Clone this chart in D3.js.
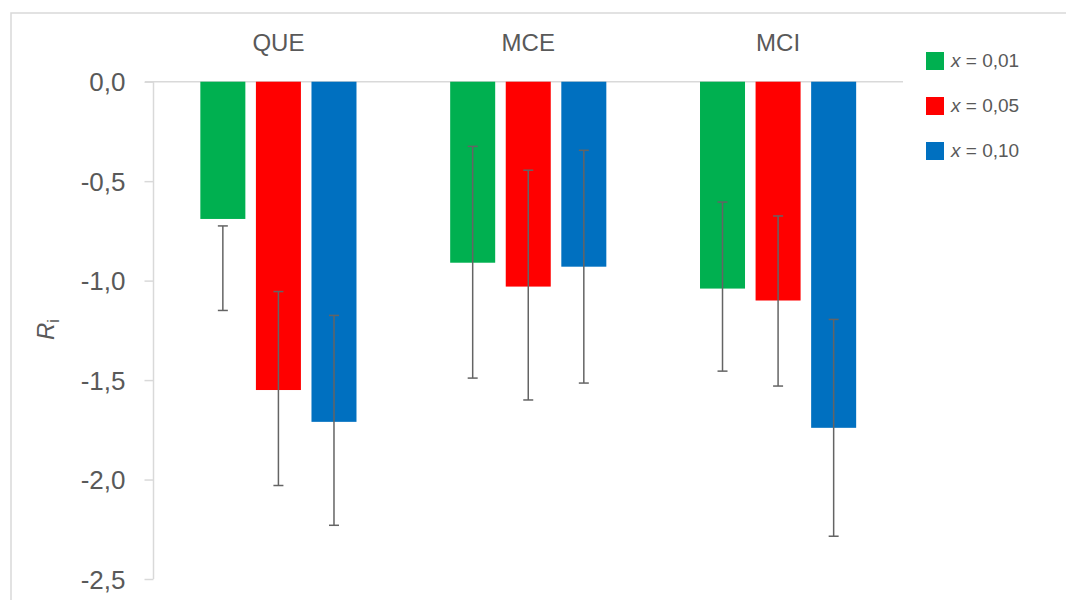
<!DOCTYPE html>
<html>
<head>
<meta charset="utf-8">
<script src="https://cdn.jsdelivr.net/npm/d3@7"></script>
<style>
  html, body { margin: 0; padding: 0; background: #fff; }
  svg { display: block; font-family: "Liberation Sans", Arial, sans-serif; }
</style>
</head>
<body>
<svg id="chart" width="1066" height="600"></svg>
<script>
// ---- data ----
const categories = ["QUE", "MCE", "MCI"];
const seriesNames = ["0,01", "0,05", "0,10"];
const seriesColors = ["#00B050", "#FF0000", "#0070C0"];
const valuesX001 = [-0.69, -0.91, -1.04];
const valuesX005 = [-1.55, -1.03, -1.10];
const valuesX010 = [-1.71, -0.93, -1.74];
// error bar upper and lower ends
const errTopX001 = [-0.725, -0.325, -0.605];
const errBotX001 = [-1.15, -1.49, -1.455];
const errTopX005 = [-1.055, -0.445, -0.675];
const errBotX005 = [-2.03, -1.60, -1.53];
const errTopX010 = [-1.175, -0.345, -1.195];
const errBotX010 = [-2.23, -1.515, -2.285];
const yTicks = [0, -0.5, -1.0, -1.5, -2.0, -2.5];

const series = [
  { name: seriesNames[0], color: seriesColors[0], values: valuesX001, top: errTopX001, bot: errBotX001 },
  { name: seriesNames[1], color: seriesColors[1], values: valuesX005, top: errTopX005, bot: errBotX005 },
  { name: seriesNames[2], color: seriesColors[2], values: valuesX010, top: errTopX010, bot: errBotX010 }
];

const svg = d3.select("#chart");
const fmt = v => d3.format(".1f")(v).replace(".", ",").replace("−", "-");

// outer border
svg.append("rect").attr("x", 11).attr("y", 13).attr("width", 1070).attr("height", 600)
  .attr("fill", "none").attr("stroke", "#D9D9D9").attr("stroke-width", 1.5);

const y = d3.scaleLinear().domain([-2.5, 0]).range([579, 81.7]);
const x0 = d3.scaleBand().domain(categories).range([153.5, 903]).paddingInner(0.375).paddingOuter(0.1875);
const x1 = d3.scaleBand().domain(d3.range(series.length)).range([0, x0.bandwidth()]).paddingInner(0.19);

// y axis
const yAxis = d3.axisLeft(y).tickValues(yTicks).tickSize(9).tickFormat(fmt);
const gy = svg.append("g").attr("transform", "translate(153.5,0)").call(yAxis);
gy.select(".domain").attr("stroke", "#D9D9D9").attr("stroke-width", 1.5).attr("d", `M0,${y(0)}V${y(-2.5)}`);
gy.selectAll(".tick line").attr("stroke", "#D9D9D9").attr("stroke-width", 1.5);
gy.selectAll(".tick text").attr("x", -28).attr("fill", "#595959").attr("font-size", 26)
  .attr("font-family", "'Liberation Sans', Arial, sans-serif").attr("dy", "0.35em");

// category baseline at 0
svg.append("line").attr("x1", 145).attr("x2", 903).attr("y1", y(0)).attr("y2", y(0))
  .attr("stroke", "#D9D9D9").attr("stroke-width", 1.5);

// category labels (top)
svg.append("g").selectAll("text").data(categories).join("text")
  .attr("x", d => x0(d) + x0.bandwidth() / 2).attr("y", 51)
  .attr("text-anchor", "middle").attr("fill", "#595959").attr("font-size", 24)
  .text(d => d);

// bars
const groups = svg.append("g").selectAll("g").data(categories).join("g")
  .attr("transform", d => `translate(${x0(d)},0)`);
groups.each(function(cat, ci) {
  const g = d3.select(this);
  series.forEach((s, si) => {
    g.append("rect").attr("x", x1(si)).attr("width", x1.bandwidth())
      .attr("y", y(0)).attr("height", y(s.values[ci]) - y(0))
      .attr("fill", s.color);
  });
  series.forEach((s, si) => {
    const cx = x1(si) + x1.bandwidth() / 2;
    g.append("line").attr("x1", cx).attr("x2", cx).attr("y1", y(s.top[ci])).attr("y2", y(s.bot[ci]))
      .attr("stroke", "#646464").attr("stroke-width", 1.5);
    [s.top[ci], s.bot[ci]].forEach(v => {
      g.append("line").attr("x1", cx - 5).attr("x2", cx + 5).attr("y1", y(v)).attr("y2", y(v))
        .attr("stroke", "#646464").attr("stroke-width", 1.5);
    });
  });
});

// y title R_i
const yt = svg.append("text").attr("transform", "translate(54,340) rotate(-90)")
  .attr("fill", "#595959").attr("font-size", 24);
yt.append("tspan").attr("font-style", "italic").text("R");
yt.append("tspan").attr("font-size", 16).attr("dy", 5).text("i");

// legend
const leg = svg.append("g").selectAll("g").data(series).join("g")
  .attr("transform", (d, i) => `translate(926,${52 + i * 45})`);
leg.append("rect").attr("width", 18).attr("height", 18).attr("fill", d => d.color);
const lt = leg.append("text").attr("x", 25).attr("y", 14.5).attr("fill", "#595959").attr("font-size", 19);
lt.append("tspan").attr("font-style", "italic").text("x");
lt.append("tspan").text(d => " = " + d.name);
</script>
</body>
</html>
